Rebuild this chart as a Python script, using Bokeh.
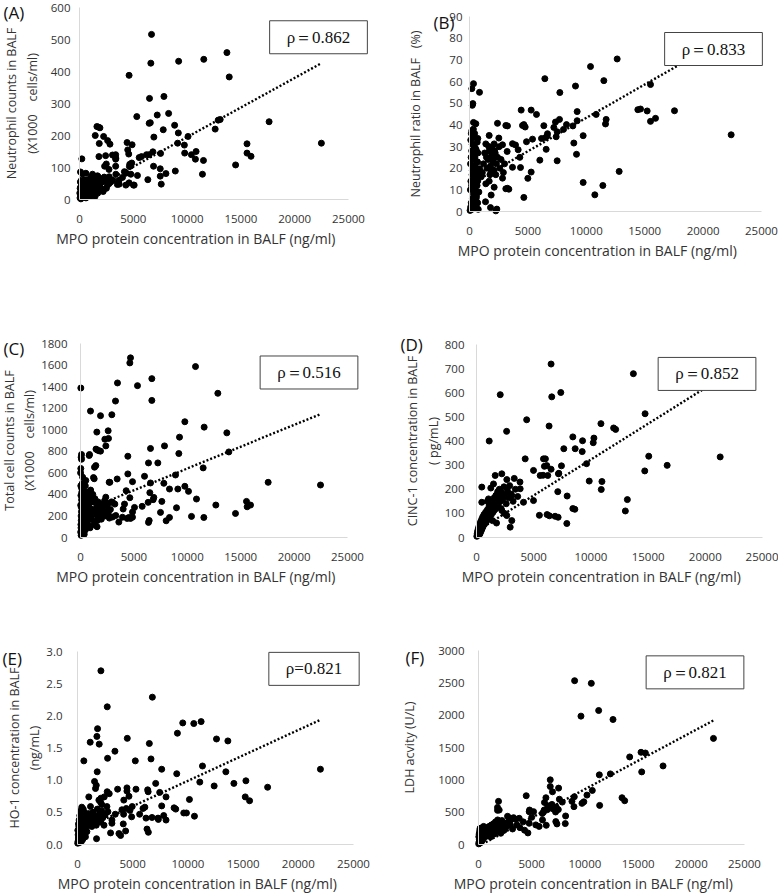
from bokeh.plotting import figure
from bokeh.layouts import column, row
from bokeh.models import Range1d, Label, FixedTicker, NumeralTickFormatter
from bokeh.embed import file_html
from bokeh.resources import INLINE

# ---------------- data ----------------
X_TITLE = "MPO protein concentration in BALF (ng/ml)"
X_TICKS = [0, 5000, 10000, 15000, 20000, 25000]

A_x = [6694, 6630, 9215, 11550, 13700, 13916, 4608, 6507, 7846, 7223,
       8282, 5324, 6476, 6580, 8842, 7783, 6912, 9184, 10087, 12609,
       12890, 13076, 17621, 22478, 15567, 15567, 15940, 14508, 11426, 9745,
       9776, 10399, 10835, 10773, 11520, 9122, 6818, 6227, 6476, 5760,
       6351, 6880, 7535, 7504, 7504, 8033, 8904, 7597, 5012, 5386,
       4608, 4857, 4670, 4888, 4421, 4483, 4576, 4639, 4172, 4300,
       3674, 3518, 3362, 3362, 3362, 2740, 2833, 2615, 2241, 1775,
       1619, 1899, 1463, 1837, 1806, 2428, 2491, 2335, 218, 93,
       280, 592, 3067, 3377, 4771, 5546, 1208, 1673, 2760, 3377,
       3996, 4307, 4771, 2760, 3687, 4307, 5081, 1518,
       50, 100, 150, 200, 250, 300, 350, 400, 450, 500,
       550, 600, 650, 700, 750, 800, 900, 1000, 1100, 1200,
       1300, 1400, 1500, 1600, 1700, 1800, 1900, 2000, 2100, 2200,
       2400, 2600, 80, 120, 180, 230, 320, 380, 470, 520,
       620, 720, 850, 950, 1050, 1150, 1250, 1350, 1450, 1550,
       1650, 1750, 1850, 1950, 2300, 2500, 2700, 2900, 3100, 30,
       60, 130, 280, 430, 580, 680, 780, 880, 980, 1080]
A_y = [516, 426, 432, 438, 459, 383, 388, 316, 322, 264,
       269, 259, 238, 240, 232, 218, 195, 208, 197, 220,
       248, 250, 243, 176, 174, 145, 135, 108, 79, 170,
       145, 140, 150, 126, 122, 176, 149, 140, 140, 134,
       62, 104, 144, 96, 73, 81, 89, 48, 45, 75,
       52, 114, 110, 171, 178, 155, 142, 103, 87, 82,
       60, 47, 140, 126, 104, 94, 173, 184, 197, 226,
       228, 224, 200, 175, 134, 137, 111, 104, 127, 86,
       80, 82, 139, 129, 105, 131, 79, 74, 71, 79,
       69, 84, 79, 50, 48, 45, 45, 38,
       5, 15, 8, 25, 12, 30, 18, 40, 10, 22,
       35, 5, 15, 28, 45, 20, 12, 35, 25, 50,
       15, 40, 30, 55, 20, 45, 65, 35, 55, 25,
       60, 45, 55, 40, 60, 45, 10, 55, 30, 60,
       45, 8, 50, 60, 10, 65, 35, 55, 10, 70,
       45, 70, 30, 50, 70, 35, 65, 55, 60, 20,
       35, 2, 50, 60, 18, 40, 62, 28, 48, 70]
A_yticks = [0, 100, 200, 300, 400, 500, 600]

B_x = [12643, 10360, 11501, 6450, 7734, 9075, 342, 200, 856, 285,
       240, 342, 200, 713, 5280, 7363, 5736, 7705, 8047, 8304,
       8847, 9218, 9218, 10845, 11701, 11644, 9732, 9161, 8933, 9732,
       10731, 11416, 12814, 14412, 14640, 15211, 15497, 15925, 15497, 17551,
       22403, 4424, 4652, 4766, 6364, 6507, 6650, 7220, 7420, 7506,
       7506, 6164, 6564, 6022, 5394, 4880, 5280, 4994, 4652, 4366,
       4310, 4167, 3253, 2397, 2511, 2540, 2825, 3225, 3682, 3938,
       3368, 3250, 1855, 2340, 1798, 1370, 542, 400, 685, 870,
       1000, 1397, 1685, 2111, 3110, 4537, 6677, 3681, 2825, 1685,
       2111, 3110, 2254, 1397,
       1100, 1200, 1300, 1500, 1600, 1700, 1800, 1900, 2000, 2100,
       2200, 2300, 2400, 1750, 1950, 2050, 2250, 1450, 1650, 2600,
       2700, 2900, 3000, 1850, 2150,
       50, 100, 150, 200, 250, 300, 350, 400, 450, 500,
       550, 600, 650, 700, 750, 800, 80, 120, 180, 220,
       260, 320, 380, 420, 480, 520, 580, 640, 700, 760,
       90, 140, 190, 240, 300, 360, 410, 460, 530, 600,
       660, 720, 110, 160, 230, 290, 330, 440, 500, 570]
B_y = [70.4, 66.9, 60.4, 61.3, 54.9, 57.9, 59.0, 56.7, 55.0, 49.8,
       49.0, 41.1, 37.3, 33.7, 46.8, 41.3, 44.8, 42.5, 37.9, 40.1,
       39.5, 41.9, 46.1, 44.8, 42.5, 40.4, 35.0, 26.4, 31.6, 13.4,
       7.7, 12.0, 18.5, 47.0, 47.3, 46.4, 41.6, 43.0, 58.6, 46.5,
       35.4, 46.8, 40.1, 39.0, 39.6, 34.1, 34.8, 38.8, 34.5, 36.8,
       23.4, 33.7, 28.7, 23.7, 33.4, 32.2, 18.2, 15.3, 6.5, 20.3,
       25.0, 28.5, 39.5, 40.7, 33.9, 29.9, 30.8, 27.7, 31.3, 30.7,
       10.3, 10.7, 7.6, 1.1, 1.8, 4.5, 40.5, 34.3, 22.8, 19.7,
       16.0, 31.2, 35.1, 31.2, 39.7, 39.7, 35.9, 20.4, 15.4, 14.0,
       11.2, 10.5, 0.3, 12.8,
       18, 22, 27, 20, 24, 28, 21, 26, 23, 19,
       27, 22, 25, 17, 29, 25, 17, 25, 30, 20,
       24, 18, 22, 19, 28,
       0.5, 2, 4, 1, 6, 3, 8, 1.5, 5, 10,
       2.5, 7, 12, 4, 1, 9, 10, 14, 12, 17,
       20, 15, 18, 13, 21, 16, 19, 23, 14, 18,
       22, 25, 28, 19, 24, 27, 30, 25, 29, 28,
       32, 27, 33, 36, 31, 35, 38, 36, 12, 6]
B_yticks = [0, 10, 20, 30, 40, 50, 60, 70, 80, 90]

C_x = [4682, 4619, 10768, 31, 3464, 5337, 6679, 6679, 3277, 2934,
       1873, 936, 12859, 9769, 11579, 13702, 2590, 2278, 2622, 1529,
       2372, 1560, 1873, 1700, 1450, 843, 94, 94, 60, 1311,
       1436, 1217, 2747, 3433, 4432, 4432, 4869, 6367, 7241, 6554,
       7865, 5993, 6554, 7803, 9207, 9270, 8895, 9769, 10112, 9114,
       8333, 10861, 11486, 13889, 17571, 22472, 15543, 15605, 15917, 14513,
       12672, 11548, 10393, 8989, 8333, 8021, 7491, 7616, 6804, 6866,
       6492, 6336, 6367, 5774, 5056, 4869, 4619, 4276, 4120, 3995,
       4526, 4682, 4370, 3589, 3215, 2840, 496, 1282, 2686, 814,
       2368, 2995, 3304, 3931, 4867, 1591, 6430,
       20, 40, 60, 80, 100, 120, 30, 50, 70, 90,
       110, 130, 150, 180, 200, 230, 260, 290, 320, 350,
       380, 410, 450, 500, 550, 600, 650, 700, 750, 800,
       850, 900, 1000, 1100, 1200, 1300, 1400, 1500, 1600, 1700,
       1800, 1900, 2000, 2100, 2200, 2300, 2400, 2500, 2600, 2800,
       3000, 1150, 1350, 1650, 1950, 2250, 2700, 950, 1250, 1550,
       20, 40, 60, 100, 160, 250, 350, 450, 10, 30,
       200, 300, 700, 900, 1050]
C_y = [1667, 1620, 1586, 1387, 1434, 1409, 1474, 1272, 1266, 1139,
       1130, 1173, 1338, 1074, 1024, 971, 990, 912, 919, 978,
       850, 813, 801, 806, 820, 770, 770, 726, 745, 652,
       667, 556, 512, 543, 590, 754, 518, 692, 692, 826,
       850, 568, 506, 503, 779, 931, 580, 475, 428, 450,
       450, 357, 646, 794, 512, 487, 335, 285, 301, 223,
       301, 186, 196, 276, 186, 155, 233, 335, 351, 372,
       416, 326, 140, 289, 279, 236, 369, 434, 310, 264,
       186, 177, 177, 143, 310, 326, 529, 545, 513, 761,
       374, 328, 204, 188, 188, 158, 158,
       50, 120, 200, 280, 350, 420, 480, 90, 160, 240,
       310, 390, 60, 140, 220, 300, 380, 100, 180, 260,
       340, 420, 70, 150, 230, 310, 390, 120, 200, 280,
       360, 90, 170, 250, 330, 210, 150, 280, 240, 190,
       310, 260, 220, 290, 250, 200, 270, 300, 230, 260,
       190, 400, 360, 330, 170, 340, 180, 440, 120, 100,
       300, 390, 20, 460, 500, 460, 30, 480, 600, 640,
       560, 130, 420, 230, 330]
C_yticks = [0, 200, 400, 600, 800, 1000, 1200, 1400, 1600, 1800]

D_x = [6520, 13713, 2076, 6579, 7368, 1111, 2632, 4386, 6345, 14737,
       8421, 9269, 10263, 10205, 10877, 11988, 12164, 8626, 9240, 7632,
       9620, 7427, 7193, 6023, 5936, 6228, 5819, 6520, 7105, 7924,
       8421, 8596, 6374, 6170, 6871, 7135, 7895, 5497, 9854, 10965,
       10906, 13187, 13012, 14708, 15058, 16667, 21300, 1634, 2211, 4256,
       5856, 6145, 4982, 5567, 7167, 463, 1486, 3818, 3085, 4108,
       4982, 463, 1049, 2211, 2648, 2945, 3085,
       30, 60, 90, 120, 150, 180, 210, 240, 270, 300,
       330, 360, 390, 420, 450, 480, 510, 540, 570, 600,
       650, 700, 750, 800, 850, 900, 950, 1000, 1050, 1100,
       1150, 1200, 1250, 1300, 1350, 1400, 1450, 1500, 1550, 1600,
       1650, 1700, 1750, 1800, 1850, 1900, 1950, 2000, 2100, 2200,
       2300, 2400, 2500, 2600, 2700, 2800, 2900, 3000, 3200, 3400,
       3600, 3800, 2150, 2450, 1750, 1400, 2650, 3300, 1250, 950]
D_y = [719, 679, 592, 583, 601, 400, 440, 488, 462, 513,
       417, 401, 412, 393, 472, 454, 448, 368, 356, 368,
       306, 297, 266, 326, 295, 257, 258, 283, 190, 172,
       120, 117, 90, 95, 88, 84, 58, 92, 234, 232,
       199, 157, 110, 276, 337, 299, 334, 257, 264, 326,
       326, 298, 278, 257, 264, 209, 222, 202, 174, 146,
       153, 146, 160, 112, 91, 43, 70,
       5, 15, 25, 10, 35, 20, 45, 30, 55, 15,
       40, 65, 25, 50, 75, 35, 60, 85, 45, 70,
       95, 55, 80, 105, 65, 90, 115, 75, 100, 130,
       85, 110, 140, 95, 120, 150, 105, 135, 165, 115,
       145, 175, 125, 160, 190, 140, 170, 200, 150, 185,
       160, 210, 175, 140, 195, 165, 215, 180, 150, 200,
       170, 230, 120, 100, 60, 70, 240, 245, 205, 150]
D_yticks = [0, 100, 200, 300, 400, 500, 600, 700, 800]

E_x = [2119, 6780, 2694, 9534, 10533, 11199, 9050, 1816, 1755, 1967,
       1150, 4510, 6507, 12591, 13620, 3390, 2724, 5236, 6659, 575,
       7627, 11320, 22004, 1786, 8989, 13438, 1544, 11078, 12379, 14165,
       15254, 17221, 15194, 15587, 10139, 7082, 8020, 7445, 6356, 6400,
       5297, 4479, 4479, 3632, 4661, 2875, 10593, 9625, 9867, 8747,
       8900, 7627, 7809, 7294, 7324, 8020, 6205, 6750, 5932, 6100,
       6295, 6417, 5630, 4903, 4752, 4419, 4025, 4177, 4358, 4146,
       3753, 3904, 3117, 2996, 3117, 3420, 2754, 2663, 2119, 2421,
       1937, 1725, 1630, 1700, 2083, 2200, 2690, 1024, 4194, 4955,
       1178, 1328,
       20, 50, 80, 110, 140, 170, 200, 230, 260, 290,
       320, 350, 380, 410, 440, 470, 500, 550, 600, 650,
       700, 750, 800, 850, 900, 950, 1000, 1100, 1200, 1300,
       1400, 1500, 1600, 1700, 1800, 1900, 2000, 2100, 2200, 2300,
       2400, 2500, 60, 120, 180, 240, 300, 360, 420, 480,
       30, 90, 150, 210, 270, 330, 390, 520, 620, 720]
E_y = [2.70, 2.29, 2.14, 1.89, 1.88, 1.91, 1.73, 1.80, 1.68, 1.56,
       1.59, 1.65, 1.57, 1.64, 1.61, 1.45, 1.34, 1.30, 1.33, 1.30,
       1.17, 1.22, 1.17, 1.13, 1.10, 1.13, 0.98, 0.97, 0.91, 0.95,
       0.99, 0.89, 0.74, 0.68, 0.70, 0.95, 0.74, 0.81, 0.85, 0.82,
       0.86, 0.88, 0.83, 0.86, 0.75, 0.79, 0.44, 0.49, 0.49, 0.57,
       0.55, 0.60, 0.45, 0.41, 0.39, 0.38, 0.41, 0.42, 0.56, 0.58,
       0.24, 0.19, 0.47, 0.43, 0.53, 0.56, 0.54, 0.47, 0.21, 0.32,
       0.17, 0.14, 0.38, 0.18, 0.33, 0.47, 0.51, 0.59, 0.72, 0.74,
       0.69, 0.09, 0.87, 0.92, 0.66, 0.62, 0.82, 0.74, 0.69, 0.59,
       0.59, 0.36,
       0.02, 0.05, 0.10, 0.04, 0.15, 0.08, 0.20, 0.12, 0.25, 0.06,
       0.18, 0.30, 0.10, 0.22, 0.35, 0.14, 0.27, 0.40, 0.18, 0.32,
       0.45, 0.25, 0.38, 0.20, 0.42, 0.30, 0.48, 0.35, 0.45, 0.28,
       0.50, 0.38, 0.44, 0.30, 0.55, 0.40, 0.48, 0.35, 0.52, 0.42,
       0.30, 0.46, 0.15, 0.28, 0.03, 0.35, 0.42, 0.05, 0.48, 0.08,
       0.22, 0.32, 0.38, 0.45, 0.52, 0.13, 0.58, 0.55, 0.50, 0.12]
E_yticks = [0.0, 0.5, 1.0, 1.5, 2.0, 2.5, 3.0]

F_x = [9034, 10602, 9630, 11293, 12641, 22083, 17346, 15339, 15276, 15684,
       14210, 11355, 12390, 13488, 13739, 11386, 10696, 10194, 9724, 9900,
       8971, 8783, 9003, 8187, 8156, 7371, 7873, 7528, 6744, 6744,
       6336, 7245, 7500, 4485, 1882, 1788, 1788, 2729, 2900, 3294,
       3500, 4799, 5176, 6117, 6462, 6964, 6000, 6368, 5700, 4329,
       4643, 3607, 3900, 1945, 6954, 4764, 6174, 3036, 6015, 7265,
       2096, 6200, 6500, 6900, 7300, 7600, 3825, 4764, 5386, 4200,
       5000,
       20, 50, 80, 110, 140, 170, 200, 230, 260, 290,
       320, 350, 380, 410, 440, 470, 500, 550, 600, 650,
       700, 750, 800, 850, 900, 950, 1000, 1100, 1200, 1300,
       1400, 1500, 1600, 1700, 1800, 1900, 2000, 2100, 2200, 2300,
       2400, 2500, 2600, 2800, 3000, 3200, 60, 120, 180, 240,
       300, 360, 420, 480, 30, 90, 150, 1150, 1450, 1750]
F_y = [2533, 2492, 1985, 2072, 1933, 1641, 1215, 1123, 1426, 1415,
       1354, 1077, 1092, 723, 677, 605, 836, 764, 636, 660,
       585, 667, 738, 441, 323, 318, 656, 872, 1000, 897,
       723, 503, 540, 754, 667, 574, 528, 436, 410, 415,
       390, 533, 508, 503, 538, 554, 480, 297, 280, 221,
       179, 303, 260, 533, 815, 507, 533, 380, 380, 354,
       174, 650, 600, 620, 580, 700, 405, 328, 303, 350,
       420,
       10, 40, 80, 20, 60, 110, 30, 90, 140, 50,
       120, 170, 70, 150, 200, 100, 180, 230, 120, 210,
       150, 250, 170, 260, 130, 220, 280, 190, 300, 230,
       320, 250, 350, 270, 380, 290, 340, 260, 370, 300,
       220, 330, 270, 350, 300, 240, 160, 220, 180, 230,
       200, 260, 240, 280, 120, 180, 250, 120, 160, 200]
F_yticks = [0, 500, 1000, 1500, 2000, 2500, 3000]

# trend lines (linear): slope, intercept
A_trend = (0.0185, 10)
B_trend = (0.00308, 12.4)
C_trend = (0.0405, 235)
D_trend = (0.0297, 26)
E_trend = (0.000079, 0.2)
F_trend = (0.088, -25)

NBSP = "\u00a0"
PANELS = [
    dict(letter="(A)", xs=A_x, ys=A_y, yticks=A_yticks, fmt="0", trend=A_trend,
         ylabel="Neutrophil counts in BALF\n(X1000" + NBSP * 4 + "cells/ml)", rho="\u03c1\uff1d0.862"),
    dict(letter="(B)", xs=B_x, ys=B_y, yticks=B_yticks, fmt="0", trend=B_trend,
         ylabel="Neutrophil ratio in BALF" + NBSP * 3 + "(%)", rho="\u03c1\uff1d0.833"),
    dict(letter="(C)", xs=C_x, ys=C_y, yticks=C_yticks, fmt="0", trend=C_trend,
         ylabel="Total cell counts in BALF\n(X1000" + NBSP * 4 + "cells/ml)", rho="\u03c1\uff1d0.516"),
    dict(letter="(D)", xs=D_x, ys=D_y, yticks=D_yticks, fmt="0", trend=D_trend,
         ylabel="CINC-1 concentration in BALF\n(" + NBSP + "pg/mL)", rho="\u03c1\uff1d0.852"),
    dict(letter="(E)", xs=E_x, ys=E_y, yticks=E_yticks, fmt="0.0", trend=E_trend,
         ylabel="HO-1 concentration in BALF\n(ng/mL)", rho="\u03c1=0.821"),
    dict(letter="(F)", xs=F_x, ys=F_y, yticks=F_yticks, fmt="0", trend=F_trend,
         ylabel="LDH acvity (U/L)", rho="\u03c1\uff1d0.821"),
]

# ---------------- layout / style ----------------
# W, H: figure size; L: px of the y axis from the figure's left; fw: x axis length (px)
# T: px of the top of the y axis from the figure's top; fh: y axis length (px)
# letter: (left px, middle px) in the figure; rho: box centre in data units
LAYOUT = [
    dict(W=390, H=262, L=79, fw=269, T=7, fh=192, letter=(3, 12), rho=(22212, 507), ystand=9, ylstand=7),
    dict(W=388, H=262, L=79, fw=292, T=16, fh=195, letter=(43, 22), rho=(20890, 75.0), ystand=7, ylstand=22),
    dict(W=390, H=329, L=80, fw=267, T=81, fh=194, letter=(3, 86), rho=(21395, 1531), ystand=13, ylstand=0),
    dict(W=388, H=329, L=86, fw=286, T=82, fh=193, letter=(10, 82), rho=(20150, 678), ystand=12, ylstand=0),
    dict(W=390, H=302, L=77, fw=276, T=60, fh=193, letter=(2, 67), rho=(21422, 2.73), ystand=15, ylstand=0),
    dict(W=388, H=302, L=88, fw=266, T=59, fh=194, letter=(15, 66), rho=(20348, 2662), ystand=14, ylstand=17),
]

TXT = "#333333"
FONT = "Open Sans"
X_TITLE_PAD = NBSP * 10   # the title sits a little left of the axis centre


def make_panel(d, lay):
    W, H, L, fw, T, fh = lay["W"], lay["H"], lay["L"], lay["fw"], lay["T"], lay["fh"]
    xmax = X_TICKS[-1]
    ymax = d["yticks"][-1]
    sx = fw / xmax
    sy = fh / ymax
    p = figure(width=W, height=H,
               x_range=Range1d(-L / sx, (W - L) / sx),
               y_range=Range1d(-(H - T - fh) / sy, ymax + T / sy),
               output_backend="svg", toolbar_location=None, min_border=0)
    p.outline_line_color = None
    p.xgrid.visible = False
    p.ygrid.visible = False
    for ax in (p.xaxis[0], p.yaxis[0]):
        ax.fixed_location = 0
        ax.axis_line_color = "#d9d9d9"
        ax.axis_line_width = 1
        ax.major_tick_line_color = None
        ax.minor_tick_line_color = None
        ax.major_tick_out = 0
        ax.major_tick_in = 0
        ax.major_label_text_font = FONT
        ax.major_label_text_font_size = "11.5px"
        ax.major_label_text_color = TXT
        ax.axis_label_text_font = FONT
        ax.axis_label_text_font_size = "12.5px"
        ax.axis_label_text_font_style = "normal"
        ax.axis_label_text_color = TXT
    p.xaxis.axis_label_text_font_size = "14px"
    p.xaxis.bounds = (0, xmax)
    p.yaxis.bounds = (0, ymax)
    p.xaxis.ticker = FixedTicker(ticks=X_TICKS)
    p.yaxis.ticker = FixedTicker(ticks=d["yticks"])
    p.xaxis.formatter = NumeralTickFormatter(format="0")
    p.yaxis.formatter = NumeralTickFormatter(format=d["fmt"])
    p.xaxis.axis_label = X_TITLE + X_TITLE_PAD
    p.yaxis.axis_label = d["ylabel"]
    p.xaxis.major_label_standoff = 15
    p.xaxis.axis_label_standoff = 3
    p.yaxis.major_label_standoff = lay["ystand"]
    p.yaxis.axis_label_standoff = lay["ylstand"]

    xs, ys = d["xs"], d["ys"]
    slope, icpt = d["trend"]
    x0, x1 = min(xs), max(xs)
    p.line([x0, x1], [icpt + slope * x0, icpt + slope * x1],
           line_color="black", line_width=2.4, line_dash="2 2")
    p.scatter(xs, ys, size=6, color="black")

    fx, fy = lay["letter"]
    p.add_layout(Label(x=(fx - L) / sx, y=(T + fh - fy) / sy,
                       text=d["letter"], text_font=FONT, text_font_size="17px",
                       text_color="#111111", text_align="left", text_baseline="middle"))
    rx, ry = lay["rho"]
    p.add_layout(Label(x=rx, y=ry, text=d["rho"], text_font="Liberation Serif",
                       text_font_size="17px", text_color="#111111",
                       text_align="center", text_baseline="middle",
                       background_fill_color="white", border_line_color="#444444",
                       border_line_width=1, padding=(17, 7)))
    return p


figs = [make_panel(d, l) for d, l in zip(PANELS, LAYOUT)]
layout = column(row(figs[0], figs[1]), row(figs[2], figs[3]), row(figs[4], figs[5]))

open("out.html", "w").write(file_html(layout, INLINE))
